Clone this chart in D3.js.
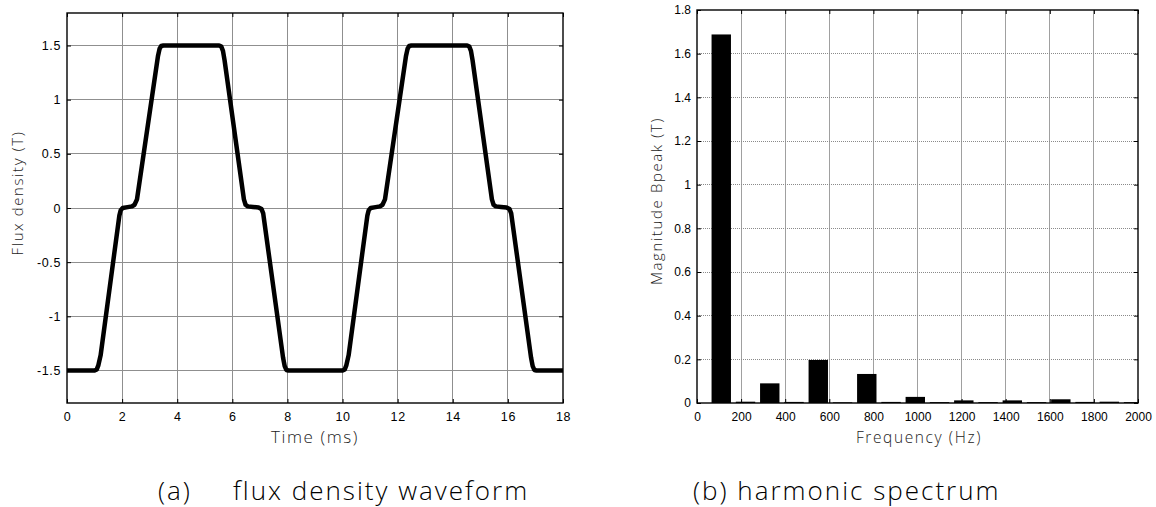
<!DOCTYPE html>
<html>
<head>
<meta charset="utf-8">
<script src="https://cdn.jsdelivr.net/npm/d3@7"></script>
<style>
  html, body { margin: 0; padding: 0; background: #fff; }
  svg { display: block; }
  .tick text { font-family: "Liberation Sans", Arial, sans-serif; fill: #000; }
  .title { font-family: "Open Sans", "Noto Sans", sans-serif; font-weight: 300; fill: #222; letter-spacing: 1.6px; }
  .caption { font-family: "Open Sans", "Noto Sans", sans-serif; font-weight: 300; fill: #000; letter-spacing: 2px; }
</style>
</head>
<body>
<svg id="fig" width="1156" height="507"></svg>
<script>
// ---- (a) flux density waveform: breakpoints of B(t) ----
const timeMs = [
  0, 1.00, 1.08, 1.14, 1.22, 1.90, 1.95, 2.02, 2.20, 2.36, 2.45, 2.54,
  3.30, 3.36, 3.42, 3.50, 5.52, 5.60, 5.66, 5.72, 6.42, 6.48, 6.56, 6.75,
  6.95, 7.06, 7.12, 7.84, 7.90, 7.96, 8.04,
  10.00, 10.08, 10.14, 10.22, 10.90, 10.95, 11.02, 11.20, 11.36, 11.45, 11.54,
  12.30, 12.36, 12.42, 12.50, 14.52, 14.60, 14.66, 14.72, 15.42, 15.48, 15.56, 15.75,
  15.95, 16.06, 16.12, 16.84, 16.90, 16.96, 17.04, 18
];
const fluxT = [
  -1.5, -1.5, -1.49, -1.45, -1.36, -0.07, -0.02, 0.0, 0.008, 0.015, 0.03, 0.08,
  1.40, 1.47, 1.495, 1.5, 1.5, 1.49, 1.45, 1.36, 0.08, 0.03, 0.015, 0.01,
  0.005, -0.01, -0.05, -1.38, -1.46, -1.495, -1.5,
  -1.5, -1.49, -1.45, -1.36, -0.07, -0.02, 0.0, 0.008, 0.015, 0.03, 0.08,
  1.40, 1.47, 1.495, 1.5, 1.5, 1.49, 1.45, 1.36, 0.08, 0.03, 0.015, 0.01,
  0.005, -0.01, -0.05, -1.38, -1.46, -1.495, -1.5, -1.5
];
const timeTicks = [0, 2, 4, 6, 8, 10, 12, 14, 16, 18];
const fluxTicks = [-1.5, -1, -0.5, 0, 0.5, 1, 1.5];

// ---- (b) harmonic spectrum ----
const harmonicHz = [110, 220, 330, 440, 550, 660, 770, 880, 990,
                    1100, 1210, 1320, 1430, 1540, 1650, 1760, 1870, 1980];
const magnitudeT = [1.688, 0.006, 0.09, 0.005, 0.197, 0.003, 0.133, 0.005, 0.028,
                    0.004, 0.012, 0.004, 0.012, 0.004, 0.017, 0.005, 0.006, 0.004];
const freqTicks = [0, 200, 400, 600, 800, 1000, 1200, 1400, 1600, 1800, 2000];
const magTicks = [0, 0.2, 0.4, 0.6, 0.8, 1, 1.2, 1.4, 1.6, 1.8];
const barWidthHz = 88;

const svg = d3.select("#fig");
const fmt = d => String(d);

// Grid lines inside the axes box (border positions skipped)
function grid(g, x, y, xTicks, yTicks, opts) {
  const [x0, x1] = x.range();
  const [y0, y1] = y.range();
  g.append("g").selectAll("line").data(xTicks.filter(v => x(v) > x0 + 1 && x(v) < x1 - 1))
    .join("line")
    .attr("x1", d => x(d)).attr("x2", d => x(d))
    .attr("y1", y1).attr("y2", y0)
    .attr("stroke", opts.vGrid).attr("stroke-width", 1)
    .attr("shape-rendering", "crispEdges");
  g.append("g").selectAll("line").data(yTicks.filter(v => y(v) < y0 - 1 && y(v) > y1 + 1))
    .join("line")
    .attr("x1", x0).attr("x2", x1)
    .attr("y1", d => y(d)).attr("y2", d => y(d))
    .attr("stroke", opts.hGrid).attr("stroke-width", 1)
    .attr("stroke-dasharray", opts.hDash || null)
    .attr("shape-rendering", "crispEdges");
}

// Boxed axes with inward ticks on all four sides
function axes(g, x, y, xTicks, yTicks, fs, ls) {
  const [x0, x1] = x.range();
  const [y0, y1] = y.range();
  const tick = 4;
  const bottom = g.append("g").attr("transform", `translate(0,${y0})`)
    .call(d3.axisBottom(x).tickValues(xTicks).tickFormat(fmt).tickSizeInner(-tick).tickSizeOuter(0).tickPadding(9));
  const top = g.append("g").attr("transform", `translate(0,${y1})`)
    .call(d3.axisTop(x).tickValues(xTicks).tickFormat("").tickSizeInner(-tick).tickSizeOuter(0));
  const left = g.append("g").attr("transform", `translate(${x0},0)`)
    .call(d3.axisLeft(y).tickValues(yTicks).tickFormat(fmt).tickSizeInner(-tick).tickSizeOuter(0).tickPadding(6));
  const right = g.append("g").attr("transform", `translate(${x1},0)`)
    .call(d3.axisRight(y).tickValues(yTicks).tickFormat("").tickSizeInner(-tick).tickSizeOuter(0));
  [bottom, top, left, right].forEach(a => {
    a.select(".domain").remove();
    a.selectAll(".tick line").attr("stroke", "#000").attr("stroke-width", 1);
    a.selectAll(".tick text").style("font-size", fs + "px").style("letter-spacing", ls + "px");
  });
  g.append("rect")
    .attr("x", x0).attr("y", y1).attr("width", x1 - x0).attr("height", y0 - y1)
    .attr("fill", "none").attr("stroke", "#000").attr("stroke-width", 1.4);
}

// ---------- panel (a) ----------
const xa = d3.scaleLinear().domain([0, 18]).range([67, 563]);
const ya = d3.scaleLinear().domain([-1.8, 1.8]).range([403, 13]);
const ga = svg.append("g");
grid(ga, xa, ya, timeTicks, fluxTicks, { vGrid: "#8f8f8f", hGrid: "#8f8f8f" });

const wave = timeMs.map((t, i) => [t, fluxT[i]]);
ga.append("path")
  .datum(wave)
  .attr("d", d3.line().x(d => xa(d[0])).y(d => ya(d[1])))
  .attr("fill", "none").attr("stroke", "#000").attr("stroke-width", 4.5)
  .attr("stroke-linejoin", "round").attr("stroke-linecap", "butt");

axes(ga, xa, ya, timeTicks, fluxTicks, 12.5, 0.6);

ga.append("text").attr("class", "title")
  .attr("x", 315).attr("y", 443).attr("text-anchor", "middle")
  .style("font-size", "17px").text("Time (ms)");
ga.append("text").attr("class", "title")
  .attr("transform", "translate(23,193) rotate(-90)").attr("text-anchor", "middle")
  .style("font-size", "15px").text("Flux density (T)");

// ---------- panel (b) ----------
const xb = d3.scaleLinear().domain([0, 2000]).range([697, 1138]);
const yb = d3.scaleLinear().domain([0, 1.8]).range([403, 10]);
const gb = svg.append("g");
grid(gb, xb, yb, freqTicks, magTicks, { vGrid: "#a0a0a0", hGrid: "#8a8a8a", hDash: "1,1" });

svg.append("defs").append("clipPath").attr("id", "clipB")
  .append("rect").attr("x", 697).attr("y", 10).attr("width", 441).attr("height", 393);

gb.append("g").attr("clip-path", "url(#clipB)")
  .selectAll("rect").data(harmonicHz.map((f, i) => ({ f, v: magnitudeT[i] })))
  .join("rect")
  .attr("x", d => xb(d.f - barWidthHz / 2))
  .attr("width", d => xb(d.f + barWidthHz / 2) - xb(d.f - barWidthHz / 2))
  .attr("y", d => yb(d.v))
  .attr("height", d => yb(0) - yb(d.v))
  .attr("fill", "#000");

axes(gb, xb, yb, freqTicks, magTicks, 12, 0);

gb.append("text").attr("class", "title")
  .attr("x", 919).attr("y", 443).attr("text-anchor", "middle")
  .style("font-size", "15.5px").text("Frequency (Hz)");
gb.append("text").attr("class", "title")
  .attr("transform", "translate(662,201) rotate(-90)").attr("text-anchor", "middle")
  .style("font-size", "15px").text("Magnitude Bpeak (T)");

// ---------- captions ----------
svg.append("text").attr("class", "caption")
  .attr("x", 158).attr("y", 500).style("font-size", "26px").text("(a)");
svg.append("text").attr("class", "caption")
  .attr("x", 233).attr("y", 500).style("font-size", "26px").text("flux density waveform");
svg.append("text").attr("class", "caption")
  .attr("x", 693).attr("y", 500).style("font-size", "26px").text("(b) harmonic spectrum");
</script>
</body>
</html>
